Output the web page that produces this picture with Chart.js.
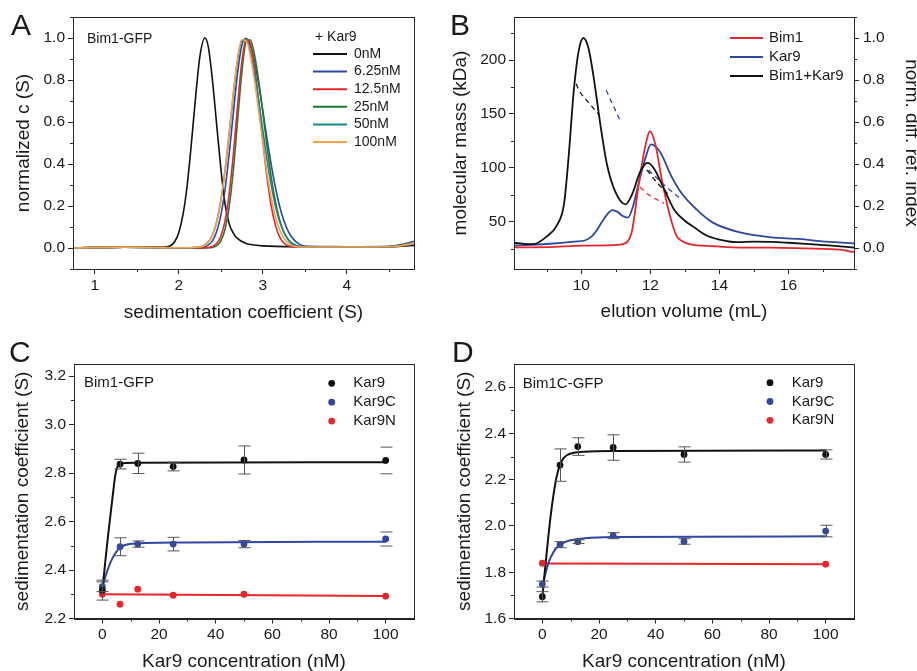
<!DOCTYPE html>
<html>
<head>
<meta charset="utf-8">
<script src="https://cdn.jsdelivr.net/npm/chart.js@4.4.1/dist/chart.umd.min.js"></script>
<style>
    html, body { margin: 0; padding: 0; background: #fff; }
    body { width: 917px; height: 671px; position: relative; overflow: hidden; }
    canvas { position: absolute; }
</style>
</head>
<body>
<canvas id="chart-a" width="458" height="330" style="left:0;top:0"></canvas>
<canvas id="chart-b" width="477" height="330" style="left:440px;top:0"></canvas>
<canvas id="chart-c" width="458" height="341" style="left:0;top:330px"></canvas>
<canvas id="chart-d" width="477" height="341" style="left:440px;top:330px"></canvas>
<script>
/*  ========================
      DATOS PANEL A (c(S))
    ======================== */
const sedA = [0.74, 1.35, 2.0, 2.25, 2.3, 2.35, 2.4, 2.45, 2.5, 2.55, 2.6, 2.65, 2.7, 2.75, 2.8, 2.85, 2.9, 2.95, 3.0, 3.05, 3.1, 3.15, 3.2, 3.25, 3.3, 3.35, 3.4, 3.45, 3.5, 3.7, 4.0, 4.5, 4.65, 4.8];
const c6_25nM = [0, 0.004, 0.001, 0.002, 0.005, 0.014, 0.034, 0.077, 0.155, 0.278, 0.45, 0.647, 0.835, 0.965, 0.999, 0.966, 0.89, 0.78, 0.654, 0.52, 0.397, 0.288, 0.199, 0.131, 0.082, 0.049, 0.028, 0.015, 0.009, 0.007, 0.006, 0.008, 0.016, 0.032];
const c12_5nM = [0, 0.004, 0.001, 0.0, 0.001, 0.002, 0.007, 0.021, 0.056, 0.129, 0.26, 0.45, 0.68, 0.884, 0.993, 0.976, 0.867, 0.70, 0.51, 0.336, 0.20, 0.109, 0.053, 0.024, 0.011, 0.006, 0.005, 0.005, 0.005, 0.005, 0.005, 0.006, 0.01, 0.02];
const c25nM = [0, 0.004, 0.001, 0.0, 0.0, 0.001, 0.003, 0.011, 0.034, 0.089, 0.198, 0.375, 0.607, 0.835, 0.98, 0.991, 0.923, 0.80, 0.645, 0.485, 0.339, 0.221, 0.134, 0.076, 0.040, 0.019, 0.009, 0.006, 0.005, 0.005, 0.005, 0.006, 0.01, 0.018];
const c50nM = [0, 0.004, 0.001, 0.005, 0.012, 0.028, 0.062, 0.124, 0.225, 0.368, 0.546, 0.734, 0.895, 0.988, 0.993, 0.938, 0.836, 0.705, 0.56, 0.421, 0.299, 0.20, 0.126, 0.076, 0.043, 0.023, 0.011, 0.006, 0.004, 0.005, 0.005, 0.006, 0.012, 0.022];
const c100nM = [0, 0.004, 0.001, 0.005, 0.011, 0.027, 0.060, 0.122, 0.223, 0.37, 0.553, 0.744, 0.904, 0.992, 0.988, 0.919, 0.80, 0.653, 0.499, 0.357, 0.239, 0.15, 0.088, 0.048, 0.025, 0.012, 0.006, 0.005, 0.005, 0.005, 0.005, 0.006, 0.012, 0.022];
const sedA0 = [0.74, 1.35, 1.8, 1.9, 1.95, 2.0, 2.05, 2.1, 2.15, 2.2, 2.25, 2.31, 2.35, 2.4, 2.45, 2.5, 2.55, 2.6, 2.65, 2.7, 2.8, 2.9, 3.0, 3.5, 4.0, 4.5, 4.65, 4.8];
const c0nM = [0, 0.004, 0.003, 0.011, 0.03, 0.074, 0.16, 0.30, 0.50, 0.72, 0.91, 1.0, 0.96, 0.80, 0.59, 0.38, 0.21, 0.115, 0.07, 0.045, 0.022, 0.014, 0.01, 0.006, 0.005, 0.005, 0.008, 0.012];
const marcasXA = [1, 2, 3, 4];
const menoresXA = [1.5, 2.5, 3.5, 4.5];
const marcasYA = [0, 0.2, 0.4, 0.6, 0.8, 1.0];
const menoresYA = [-0.1, 0.1, 0.3, 0.5, 0.7, 0.9, 1.1];
const leyendaA = ['0nM', '6.25nM', '12.5nM', '25nM', '50nM', '100nM'];

/*  ========================
      DATOS PANEL B (SEC-MALS)
    ======================== */
const volB_mix = [8.05, 8.6, 9.0, 9.3, 9.5, 9.63, 9.78, 9.92, 10.06, 10.21, 10.36, 10.55, 10.74, 10.98, 11.28, 11.47, 11.71, 11.92, 12.1, 12.4, 12.7, 13.0, 13.3, 13.6, 14.0, 14.5, 15.0, 15.5, 16.0, 16.5, 17.0, 17.5, 17.9];
const dri_mix = [0.025, 0.018, 0.055, 0.11, 0.21, 0.43, 0.745, 0.935, 1.0, 0.95, 0.81, 0.59, 0.40, 0.27, 0.208, 0.255, 0.365, 0.405, 0.38, 0.28, 0.18, 0.13, 0.095, 0.062, 0.04, 0.028, 0.03, 0.029, 0.025, 0.02, 0.014, 0.008, 0.002];
const volB_kar9 = [8.05, 9.0, 9.8, 10.12, 10.3, 10.45, 10.6, 10.75, 10.89, 11.05, 11.2, 11.35, 11.5, 11.65, 11.86, 12.02, 12.29, 12.6, 12.9, 13.33, 13.8, 14.6, 15.5, 16.3, 17.1, 17.9];
const dri_kar9 = [0.012, 0.019, 0.03, 0.037, 0.055, 0.085, 0.125, 0.16, 0.18, 0.172, 0.152, 0.145, 0.2, 0.3, 0.43, 0.493, 0.455, 0.345, 0.262, 0.185, 0.122, 0.074, 0.051, 0.043, 0.03, 0.022];
const volB_bim1 = [8.05, 9.0, 10.06, 11.06, 11.3, 11.47, 11.66, 11.86, 11.99, 12.15, 12.35, 12.57, 12.75, 12.9, 13.2, 13.8, 14.6, 15.5, 16.5, 17.5, 17.9];
const dri_bim1 = [0.003, 0.004, 0.011, 0.015, 0.025, 0.082, 0.30, 0.49, 0.556, 0.49, 0.31, 0.153, 0.06, 0.035, 0.016, 0.009, 0.002, 0.002, -0.002, -0.008, -0.02];
// masa molecular (kDa), trazos discontinuos
const volM_mix1 = [9.85, 9.95, 10.2, 10.52];
const masa_mix1 = [178, 171, 161, 149];
const volM_kar9a = [10.72, 11.12];
const masa_kar9a = [172, 144];
const volM_mix2 = [11.9, 12.2, 12.5];
const masa_mix2 = [98, 86, 76];
const volM_kar9b = [11.95, 12.4, 12.85];
const masa_kar9b = [98, 84, 72];
const volM_bim1 = [11.7, 12.0, 12.4];
const masa_bim1 = [82, 74, 67];
const marcasXB = [10, 12, 14, 16];
const menoresXB = [9, 11, 13, 15, 17];
const marcasMasa = [50, 100, 150, 200];
const menoresMasa = [25, 75, 125, 175, 225];
const marcasDri = [0, 0.2, 0.4, 0.6, 0.8, 1.0];
const menoresDri = [-0.1, 0.1, 0.3, 0.5, 0.7, 0.9, 1.1];
const leyendaB = ['Bim1', 'Kar9', 'Bim1+Kar9'];

/*  ========================
      DATOS PANELES C y D
    ======================== */
const concKar9 = [0, 6.25, 12.5, 25, 50, 100];
const sC_kar9 = [2.317, 2.837, 2.84, 2.827, 2.854, 2.852];
const eC_kar9 = [0.041, 0.02, 0.042, 0.018, 0.058, 0.055];
const sC_kar9C = [2.331, 2.496, 2.507, 2.507, 2.507, 2.528];
const eC_kar9C = [0.02, 0.037, 0.013, 0.028, 0.015, 0.029];
const sC_kar9N = [2.30, 2.259, 2.321, 2.296, 2.30, 2.292];
const ajC_x9 = [0, 1, 2, 3, 4, 4.5, 5, 5.5, 6, 7, 8, 12, 100];
const ajC_kar9 = [2.317, 2.43, 2.54, 2.64, 2.74, 2.785, 2.815, 2.830, 2.836, 2.84, 2.842, 2.843, 2.845];
const ajC_x9C = [0, 1, 2, 3, 4, 5, 6.25, 8, 10, 15, 30, 100];
const ajC_kar9C = [2.325, 2.37, 2.405, 2.435, 2.458, 2.476, 2.492, 2.503, 2.508, 2.512, 2.514, 2.517];
const ajC_xN = [0, 100];
const ajC_kar9N = [2.30, 2.293];

const sD_kar9 = [1.694, 2.263, 2.343, 2.339, 2.309, 2.309];
const eD_kar9 = [0.022, 0.07, 0.038, 0.055, 0.033, 0.02];
const sD_kar9C = [1.749, 1.919, 1.932, 1.958, 1.933, 1.978];
const eD_kar9C = [0.013, 0.013, 0.008, 0.013, 0.012, 0.025];
const concD_N = [0, 100];
const sD_kar9N = [1.839, 1.835];
const ajD_x9 = [0, 1, 2, 3, 4, 5, 6.25, 7.5, 9, 11, 15, 25, 100];
const ajD_kar9 = [1.69, 1.82, 1.94, 2.05, 2.14, 2.21, 2.265, 2.293, 2.308, 2.316, 2.321, 2.324, 2.326];
const ajD_x9C = [0, 1, 2, 3, 4, 5, 6.25, 8, 10, 15, 25, 100];
const ajD_kar9C = [1.745, 1.79, 1.835, 1.865, 1.888, 1.905, 1.918, 1.93, 1.938, 1.947, 1.952, 1.955];
const ajD_xN = [0, 100];
const ajD_kar9N = [1.838, 1.834];

const marcasXC = [0, 20, 40, 60, 80, 100];
const menoresXC = [10, 30, 50, 70, 90];
const marcasYC = [2.2, 2.4, 2.6, 2.8, 3.0, 3.2];
const menoresYC = [2.3, 2.5, 2.7, 2.9, 3.1];
const marcasYD = [1.6, 1.8, 2.0, 2.2, 2.4, 2.6];
const menoresYD = [1.7, 1.9, 2.1, 2.3, 2.5];
const leyendaCD = ['Kar9', 'Kar9C', 'Kar9N'];

/* colores y fuente */
const fuente = "'Liberation Sans', Arial, sans-serif";
const colorTexto = '#1a1a1a';
const colorEje = '#262626';
const negro = '#111111';
const azul = '#2f46a3';
const rojo = '#e8252b';
const verde = '#1b7d33';
const turquesa = '#13898a';
const naranja = '#f7a24c';

function puntos(xs, ys) {
    return xs.map((x, i) => ({ x: x, y: ys[i] }));
}

function curva(xs, ys, color, eje, extra) {
    return Object.assign({
        data: puntos(xs, ys),
        showLine: true,
        borderColor: color,
        backgroundColor: color,
        borderWidth: 1.6,
        pointRadius: 0,
        cubicInterpolationMode: 'monotone',
        yAxisID: eje || 'y'
    }, extra || {});
}

function escala(pos, min, max, marcas, tamano, titulo, padTitulo, decimales) {
    return {
        type: 'linear',
        position: pos,
        min: min,
        max: max,
        grid: { drawOnChartArea: false, drawTicks: true, tickLength: 5, tickColor: colorEje, tickWidth: 1 },
        border: { display: true, color: colorEje, width: 1 },
        ticks: {
            font: { family: fuente, size: 15.5 },
            color: colorTexto,
            padding: pos === 'bottom' ? 2 : (pos === 'right' ? 4 : 3),
            autoSkip: false,
            maxRotation: 0,
            callback: v => v.toFixed(decimales)
        },
        title: {
            display: true,
            text: titulo,
            font: { family: fuente, size: 19 },
            color: colorTexto,
            padding: pos === 'bottom' ? { top: 0, bottom: padTitulo } : { top: padTitulo, bottom: 0 }
        },
        afterBuildTicks: s => { s.ticks = marcas.map(v => ({ value: v })); },
        afterFit: s => { if (pos === 'bottom') s.height = tamano; else s.width = tamano; }
    };
}

/* marco, marcas menores, barras de error y textos */
function decorar(cfg) {
    return {
        id: 'decoracion',
        afterDatasetsDraw(chart) {
            const ctx = chart.ctx;
            const sx = chart.scales.x, sy = chart.scales.y;
            ctx.save();
            ctx.strokeStyle = '#555';
            ctx.lineWidth = 1;
            chart.data.datasets.forEach(ds => {
                if (!ds.errores) return;
                ds.data.forEach((p, i) => {
                    const e = ds.errores[i];
                    const px = Math.round(sx.getPixelForValue(p.x)) + 0.5;
                    const y1 = sy.getPixelForValue(p.y + e);
                    const y2 = sy.getPixelForValue(p.y - e);
                    ctx.beginPath();
                    // en C el último punto sólo muestra las tapas
                    if (!(ds.soloTapas && ds.soloTapas[i])) { ctx.moveTo(px, y1); ctx.lineTo(px, y2); }
                    ctx.moveTo(px - 6, y1); ctx.lineTo(px + 6, y1);
                    ctx.moveTo(px - 6, y2); ctx.lineTo(px + 6, y2);
                    ctx.stroke();
                });
            });
            ctx.restore();
        },
        afterDraw(chart) {
            const ctx = chart.ctx;
            const a = chart.chartArea;
            ctx.save();
            ctx.strokeStyle = colorEje;
            ctx.lineWidth = 1;
            ctx.strokeRect(Math.round(a.left) + 0.5, Math.round(a.top) + 0.5,
                Math.round(a.right - a.left), Math.round(a.bottom - a.top));
            cfg.menores.forEach(m => {
                const s = chart.scales[m.eje];
                m.valores.forEach(v => {
                    const p = Math.round(s.getPixelForValue(v)) + 0.5;
                    ctx.beginPath();
                    if (s.isHorizontal()) { ctx.moveTo(p, a.bottom); ctx.lineTo(p, a.bottom + 3); }
                    else if (s.position === 'left') { ctx.moveTo(a.left, p); ctx.lineTo(a.left - 3, p); }
                    else { ctx.moveTo(a.right, p); ctx.lineTo(a.right + 3, p); }
                    ctx.stroke();
                });
            });
            (cfg.lineas || []).forEach(l => {
                ctx.strokeStyle = l.color;
                ctx.lineWidth = 2;
                ctx.beginPath();
                ctx.moveTo(l.x1, l.y); ctx.lineTo(l.x2, l.y);
                ctx.stroke();
            });
            (cfg.puntos || []).forEach(p => {
                ctx.fillStyle = p.color;
                ctx.beginPath();
                ctx.arc(p.x, p.y, 3.4, 0, Math.PI * 2);
                ctx.fill();
            });
            ctx.fillStyle = colorTexto;
            ctx.textAlign = 'left';
            cfg.textos.forEach(t => {
                ctx.font = t.tam + 'px ' + fuente;
                ctx.textBaseline = t.base || 'middle';
                ctx.fillText(t.texto, t.x, t.y);
            });
            ctx.restore();
        }
    };
}

function opcionesBase(padding, escalas) {
    return {
        responsive: false,
        animation: false,
        layout: { padding: padding },
        plugins: { legend: { display: false }, tooltip: { enabled: false } },
        scales: escalas
    };
}

/*  ========================
         GRÁFICA A
    ======================== */
const coloresA = [negro, azul, rojo, verde, turquesa, naranja];
new Chart(document.getElementById('chart-a'), {
    type: 'scatter',
    data: {
        datasets: [
            curva(sedA, c100nM, naranja),
            curva(sedA, c50nM, turquesa),
            curva(sedA, c12_5nM, rojo),
            curva(sedA, c25nM, verde),
            curva(sedA, c6_25nM, azul),
            curva(sedA0, c0nM, negro)
        ]
    },
    options: opcionesBase({ left: 0, right: 44, top: 17, bottom: 0 }, {
        x: escala('bottom', 0.74, 4.8, marcasXA, 61, 'sedimentation coefficient (S)', 5.6, 0),
        y: escala('left', -0.1, 1.1, marcasYA, 73, 'normalized c (S)', 12.6, 1)
    }),
    plugins: [decorar({
        menores: [{ eje: 'x', valores: menoresXA }, { eje: 'y', valores: menoresYA }],
        lineas: leyendaA.map((t, i) => ({ x1: 313, x2: 347, y: 54 + i * 17.6, color: coloresA[i] })),
        textos: [
            { texto: 'A', x: 11, y: 35, tam: 30, base: 'alphabetic' },
            { texto: 'Bim1-GFP', x: 87, y: 39, tam: 14 },
            { texto: '+ Kar9', x: 315, y: 37, tam: 14 }
        ].concat(leyendaA.map((t, i) => ({ texto: t, x: 354, y: 54 + i * 17.6, tam: 14 })))
    })]
});

/*  ========================
         GRÁFICA B
    ======================== */
const coloresB = [rojo, azul, negro];
const discontinua = { borderDash: [5, 4], borderWidth: 1.3 };
new Chart(document.getElementById('chart-b'), {
    type: 'scatter',
    data: {
        datasets: [
            curva(volB_mix, dri_mix, negro, 'y2', { borderWidth: 1.8 }),
            curva(volB_bim1, dri_bim1, rojo, 'y2', { borderWidth: 1.8 }),
            curva(volB_kar9, dri_kar9, azul, 'y2', { borderWidth: 1.8 }),
            curva(volM_mix1, masa_mix1, negro, 'y', discontinua),
            curva(volM_kar9a, masa_kar9a, azul, 'y', discontinua),
            curva(volM_mix2, masa_mix2, negro, 'y', discontinua),
            curva(volM_kar9b, masa_kar9b, azul, 'y', discontinua),
            curva(volM_bim1, masa_bim1, rojo, 'y', discontinua)
        ]
    },
    options: opcionesBase({ left: 0, right: 0, top: 17, bottom: 0 }, {
        x: escala('bottom', 8.05, 17.9, marcasXB, 61, 'elution volume (mL)', 6.9, 0),
        y: escala('left', 6, 240, marcasMasa, 74, 'molecular mass (kDa)', 9.1, 0),
        y2: escala('right', -0.1, 1.1, marcasDri, 63, 'norm. diff. ref. index', -5.4, 1)
    }),
    plugins: [decorar({
        menores: [{ eje: 'x', valores: menoresXB }, { eje: 'y', valores: menoresMasa }, { eje: 'y2', valores: menoresDri }],
        lineas: leyendaB.map((t, i) => ({ x1: 290, x2: 323, y: 38 + i * 19, color: coloresB[i] })),
        textos: [
            { texto: 'B', x: 10, y: 35, tam: 30, base: 'alphabetic' }
        ].concat(leyendaB.map((t, i) => ({ texto: t, x: 329, y: 38 + i * 19, tam: 15 })))
    })]
});

/*  ========================
         GRÁFICAS C y D
    ======================== */
const coloresCD = [negro, azul, rojo];
function marcadores(xs, ys, color, errores, soloTapas) {
    return {
        data: puntos(xs, ys),
        showLine: false,
        pointRadius: 3.4,
        pointBackgroundColor: color,
        pointBorderWidth: 0,
        errores: errores,
        soloTapas: soloTapas
    };
}
function ajuste(xs, ys, color) {
    return curva(xs, ys, color, 'y', { borderWidth: 2 });
}
const tapasC = [false, false, false, false, false, true];

new Chart(document.getElementById('chart-c'), {
    type: 'scatter',
    data: {
        datasets: [
            marcadores(concKar9, sC_kar9, negro, eC_kar9, tapasC),
            marcadores(concKar9, sC_kar9C, azul, eC_kar9C, tapasC),
            marcadores(concKar9, sC_kar9N, rojo),
            ajuste(ajC_x9, ajC_kar9, negro),
            ajuste(ajC_x9C, ajC_kar9C, azul),
            ajuste(ajC_xN, ajC_kar9N, rojo)
        ]
    },
    options: opcionesBase({ left: 0, right: 44, top: 34, bottom: 0 }, {
        x: escala('bottom', -10, 110, marcasXC, 52.5, 'Kar9 concentration (nM)', -2.1, 0),
        y: escala('left', 2.2, 3.25, marcasYC, 74, 'sedimentation coefficient (S)', 11.1, 1)
    }),
    plugins: [decorar({
        menores: [{ eje: 'x', valores: menoresXC }, { eje: 'y', valores: menoresYC }],
        puntos: leyendaCD.map((t, i) => ({ x: 331.7, y: 53.3 + i * 18.9, color: coloresCD[i] })),
        textos: [
            { texto: 'C', x: 9, y: 32, tam: 30, base: 'alphabetic' },
            { texto: 'Bim1-GFP', x: 84, y: 52.7, tam: 15 }
        ].concat(leyendaCD.map((t, i) => ({ texto: t, x: 353.3, y: 53.3 + i * 18.9, tam: 15 })))
    })]
});

new Chart(document.getElementById('chart-d'), {
    type: 'scatter',
    data: {
        datasets: [
            marcadores(concKar9, sD_kar9, negro, eD_kar9),
            marcadores(concKar9, sD_kar9C, azul, eD_kar9C),
            marcadores(concD_N, sD_kar9N, rojo),
            ajuste(ajD_x9, ajD_kar9, negro),
            ajuste(ajD_x9C, ajD_kar9C, azul),
            ajuste(ajD_xN, ajD_kar9N, rojo)
        ]
    },
    options: opcionesBase({ left: 0, right: 63, top: 34, bottom: 0 }, {
        x: escala('bottom', -10, 110, marcasXC, 52.5, 'Kar9 concentration (nM)', -2.1, 0),
        y: escala('left', 1.6, 2.7, marcasYD, 74, 'sedimentation coefficient (S)', 13.1, 1)
    }),
    plugins: [decorar({
        menores: [{ eje: 'x', valores: menoresXC }, { eje: 'y', valores: menoresYD }],
        puntos: leyendaCD.map((t, i) => ({ x: 330, y: 52.7 + i * 18.8, color: coloresCD[i] })),
        textos: [
            { texto: 'D', x: 12, y: 32, tam: 30, base: 'alphabetic' },
            { texto: 'Bim1C-GFP', x: 82.7, y: 54, tam: 15 }
        ].concat(leyendaCD.map((t, i) => ({ texto: t, x: 351.7, y: 52.7 + i * 18.8, tam: 15 })))
    })]
});
</script>
</body>
</html>
